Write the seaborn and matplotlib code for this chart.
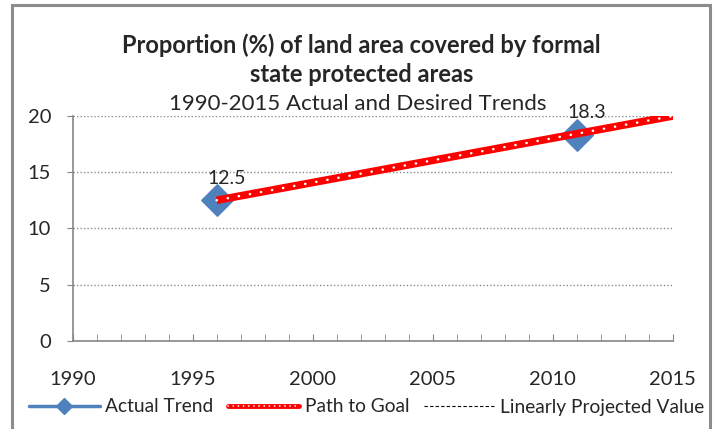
import matplotlib
matplotlib.use("Agg")
import matplotlib.pyplot as plt
import seaborn as sns
import pandas as pd
from matplotlib.lines import Line2D
from matplotlib.patches import Rectangle

# data
actual_years = [1996, 2011]
actual_values = [12.5, 18.3]
goal_years = [1996, 2015]
goal_values = [12.5, 20.0]
projected_years = [1996, 2015]
projected_values = [12.5, 19.85]
x_ticks = [1990, 1995, 2000, 2005, 2010, 2015]
y_ticks = [0, 5, 10, 15, 20]

title_lines = ["Proportion (%) of land area covered by formal",
               "state protected areas"]
subtitle = "1990-2015 Actual and Desired Trends"

sns.set_style("white")
plt.rcParams['font.family'] = ['Lato', 'DejaVu Sans']

BLUE = "#4F81BD"
RED = "#FF0000"
AXIS = "#868686"
FS = 14.5

actual = pd.DataFrame({"year": actual_years, "value": actual_values})
goal = pd.DataFrame({"year": goal_years, "value": goal_values})
projected = pd.DataFrame({"year": projected_years, "value": projected_values})

fig = plt.figure(figsize=(7.19, 4.29), dpi=100)
ax = fig.add_axes([0.101, 0.2058, 0.8347, 0.5238])

# outer chart border
fig.patches.append(Rectangle((12 / 719, -0.05), 698 / 719, 1 - 5 / 429 + 0.05,
                             transform=fig.transFigure, fill=False,
                             edgecolor="#8c8c8c", lw=2.2, zorder=0))

sns.lineplot(data=actual, x="year", y="value", ax=ax, color=BLUE, lw=2.5, zorder=2)
sns.lineplot(data=projected, x="year", y="value", ax=ax, color="black", lw=0.8,
             linestyle=(0, (3, 2)), zorder=2)
sns.scatterplot(data=actual, x="year", y="value", ax=ax, marker="D", s=250,
                color=BLUE, edgecolor=BLUE, zorder=3)
sns.lineplot(data=goal, x="year", y="value", ax=ax, color=RED, lw=5.5,
             solid_capstyle="butt", zorder=4)
sns.lineplot(data=goal, x="year", y="value", ax=ax, color="white", lw=1.8,
             linestyle=(0, (0.1, 4.4)), dash_capstyle="round", zorder=5)

for yr, v in zip(actual_years, actual_values):
    ax.annotate(f"{v}", (yr, v), xytext=(7, 16), textcoords="offset points",
                ha="center", va="center", fontsize=14, zorder=6)

ax.set_xlim(1990, 2015)
ax.set_ylim(0, 20)
ax.set_xticks(x_ticks)
ax.set_xticks(range(1990, 2016), minor=True)
ax.set_yticks(y_ticks)
ax.set_xlabel("")
ax.set_ylabel("")
ax.tick_params(axis="x", which="both", direction="in", length=5, color=AXIS,
               labelsize=FS, pad=22, bottom=True)
ax.tick_params(axis="y", direction="out", length=4.5, color=AXIS, labelsize=FS,
               pad=11, left=True)
ax.yaxis.grid(True, linestyle=(0, (1, 1.5)), color="#8c8c8c", lw=1)
ax.set_axisbelow(True)
for side in ["top", "right"]:
    ax.spines[side].set_visible(False)
for side in ["left", "bottom"]:
    ax.spines[side].set_color(AXIS)
    ax.spines[side].set_linewidth(1.2)

fig.text(0.503, 1 - 45 / 429, title_lines[0], ha="center", va="center",
         fontsize=17, fontweight="bold")
fig.text(0.503, 1 - 75 / 429, title_lines[1], ha="center", va="center",
         fontsize=17, fontweight="bold")
fig.text(0.497, 1 - 104 / 429, subtitle, ha="center", va="center", fontsize=16)

handles = [
    Line2D([], [], color=BLUE, lw=2.5, marker="D", markersize=8),
    (Line2D([], [], color=RED, lw=3.5),
     Line2D([], [], color="white", lw=1.2, linestyle=(0, (0.1, 3.0)),
            dash_capstyle="round")),
    Line2D([], [], color="black", lw=0.8, linestyle=(0, (3, 2))),
]
labels = ["Actual Trend", "Path to Goal", "Linearly Projected Value"]
fig.legend(handles, labels, loc="center", bbox_to_anchor=(0.51, 1 - 407 / 429),
           ncol=3, frameon=False, fontsize=13.8, handlelength=3.7,
           handletextpad=0.3, columnspacing=0.75)

fig.savefig("out.png", dpi=100)
